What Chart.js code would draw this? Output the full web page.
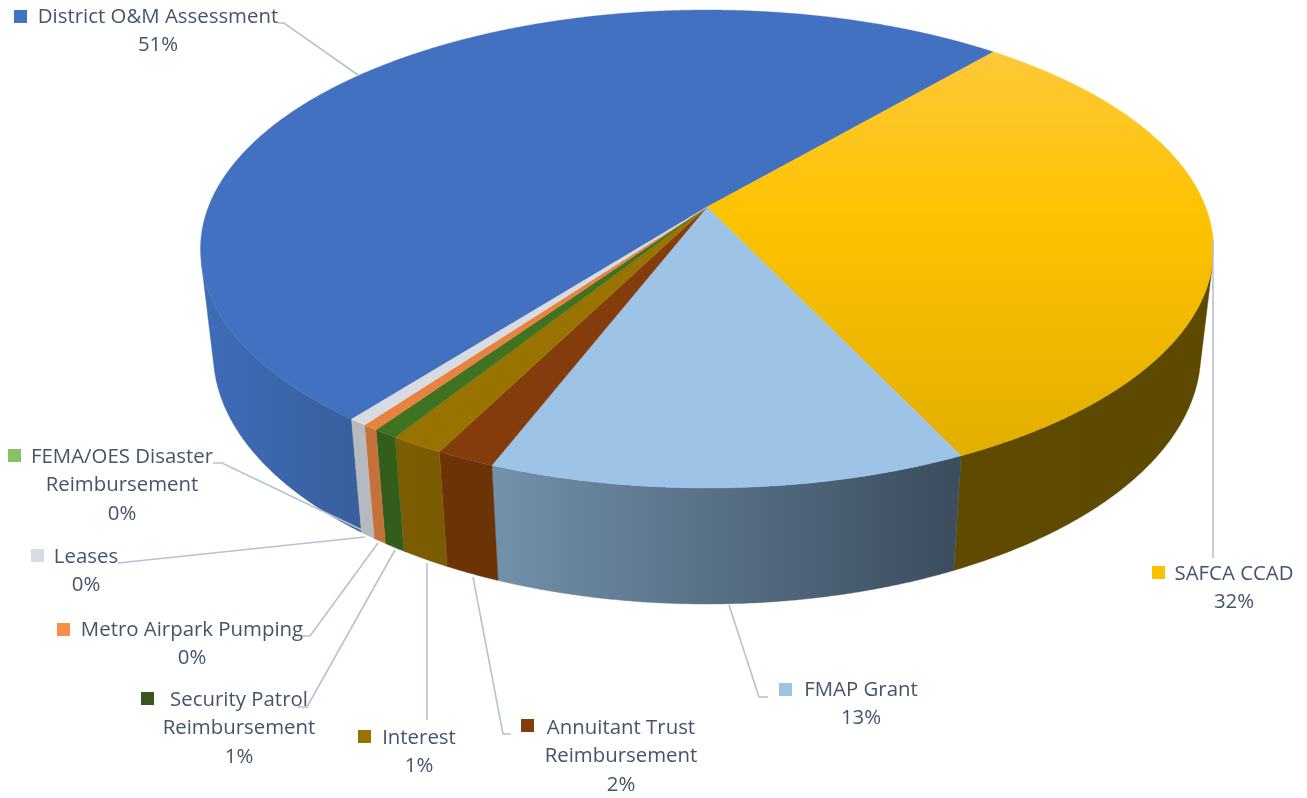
<!DOCTYPE html>
<html>
<head>
<meta charset="utf-8">
<script src="https://cdn.jsdelivr.net/npm/chart.js@4"></script>
<style>
  html, body { margin: 0; background: #fff; }
  canvas { display: block; }
</style>
</head>
<body>
<canvas id="pie" width="1307" height="798"></canvas>
<script>
// share of revenue, in percent
const categories = ["District O&M Assessment", "SAFCA CCAD", "FMAP Grant", "Annuitant Trust Reimbursement", "Interest",
    "Security Patrol Reimbursement", "Metro Airpark Pumping", "Leases", "FEMA/OES Disaster Reimbursement"];
const shares = [50.65, 31.6, 12.9, 1.6, 1.46, 0.67, 0.42, 0.49, 0.004];

const topColors = ["#4371c1", "#ffc000", "#9dc3e6", "#843c0c", "#997300", "#3f7221", "#e8833f", "#d8dce2", "#70ad47"];
const swatchColors = ["#4472c4", "#ffc000", "#9dc3e6", "#843c0c", "#997300", "#385723", "#f4904a", "#d6dce5", "#86c166"];
const wallColors = [["#3f6cb9", "#38609f"], ["#5f4a00", "#5d4900"], ["#7291ab", "#3b4c5d"], ["#6c3306", "#6c3306"],
    ["#7e5e02", "#7a5b02"], ["#335d1a", "#335d1a"], ["#c5713a", "#c5713a"], ["#b6b9bf", "#b6b9bf"], ["#5a8a39", "#5a8a39"]];

// text lines, swatch corner, text centre and first line centre, leader line
const labelLayout = [
    { lines: ["District O&M Assessment"], swatch: [14, 10], cx: 158, y: 17, leader: [[278, 23], [284, 23], [358, 75]] },
    { lines: ["SAFCA CCAD"], swatch: [1152, 566], cx: 1234, y: 574, leader: [[1213, 240], [1213, 558]] },
    { lines: ["FMAP Grant"], swatch: [779, 683], cx: 861, y: 690, leader: [[729, 605], [759, 697], [768, 697]] },
    { lines: ["Annuitant Trust", "Reimbursement"], swatch: [521, 719], cx: 621, y: 728, leader: [[473, 577], [503, 734], [511, 734]] },
    { lines: ["Interest"], swatch: [358, 730], cx: 419, y: 738, leader: [[427, 563], [427, 720]] },
    { lines: ["Security Patrol", "Reimbursement"], swatch: [141, 692], cx: 239, y: 700, leader: [[395, 550], [307, 707], [298, 707]] },
    { lines: ["Metro Airpark Pumping"], swatch: [57, 623], cx: 192, y: 630, leader: [[378, 543], [310, 636], [302, 636]] },
    { lines: ["Leases"], swatch: [31, 549], cx: 86, y: 557, leader: [[365, 537], [118, 563]] },
    { lines: ["FEMA/OES Disaster", "Reimbursement"], swatch: [8, 449], cx: 122, y: 457, leader: [[213, 463], [222, 463], [362, 530]] }
];

// tilted disc seen through a camera: apex of the pie, scale and perspective terms
const view = { cx: 707, cy: 207, a: 498.6, b: 231.6, k: 0.1757, depth: 105.6, shrink: 0.025 };
// the side wall faces the camera for sin(angle) above this
const frontLimit = view.k + view.b * view.shrink / view.depth;

function project(angle, h) {
    const u = Math.cos(angle);
    const v = Math.sin(angle);
    const w = 1 - view.k * v + view.shrink * h;
    return [view.cx + view.a * u / w, view.cy + (view.b * v + view.depth * h) / w];
}

function sweep(arc) {
    const angles = [];
    const steps = Math.max(2, Math.ceil((arc.endAngle - arc.startAngle) / 0.004));
    for (let i = 0; i <= steps; i++) {
        angles.push(arc.startAngle + (arc.endAngle - arc.startAngle) * i / steps);
    }
    return angles;
}

function tracePath(ctx, pts) {
    ctx.beginPath();
    pts.forEach((p, i) => i === 0 ? ctx.moveTo(p[0], p[1]) : ctx.lineTo(p[0], p[1]));
    ctx.closePath();
}

function wallFill(ctx, upper, i) {
    const xs = upper.map((p) => p[0]);
    const grad = ctx.createLinearGradient(Math.min(...xs), 0, Math.max(...xs), 0);
    grad.addColorStop(0, wallColors[i][0]);
    grad.addColorStop(1, wallColors[i][1]);
    return grad;
}

function topFill(ctx, i) {
    if (categories[i] !== "SAFCA CCAD") {
        return topColors[i];
    }
    const grad = ctx.createLinearGradient(0, 50, 0, 458);
    grad.addColorStop(0, "#fdc93a");
    grad.addColorStop(0.4, "#fec300");
    grad.addColorStop(1, "#e2ae00");
    return grad;
}

const perspectivePie = {
    id: "perspectivePie",
    beforeDatasetsDraw(chart) {
        const ctx = chart.ctx;
        const arcs = chart.getDatasetMeta(0).data;
        ctx.save();
        arcs.forEach((arc, i) => {
            const front = sweep(arc).filter((angle) => Math.sin(angle) > frontLimit);
            const thick = arc.endAngle - arc.startAngle > 0.001;
            if (front.length < 2) {
                return;
            }
            const upper = front.map((angle) => project(angle, 0));
            const lower = front.map((angle) => project(angle, 1));
            tracePath(ctx, upper.concat(lower.reverse()));
            ctx.fillStyle = wallFill(ctx, upper, i);
            ctx.fill();
            if (thick) {
                ctx.strokeStyle = ctx.fillStyle;
                ctx.lineWidth = 0.4;
                ctx.stroke();
            }
        });
        arcs.forEach((arc, i) => {
            tracePath(ctx, [[view.cx, view.cy]].concat(sweep(arc).map((angle) => project(angle, 0))));
            ctx.fillStyle = topFill(ctx, i);
            ctx.fill();
            if (arc.endAngle - arc.startAngle > 0.001) {
                ctx.strokeStyle = ctx.fillStyle;
                ctx.lineWidth = 0.4;
                ctx.stroke();
            }
        });
        ctx.restore();
        return false;
    },
    afterDraw(chart) {
        const ctx = chart.ctx;
        const total = shares.reduce((sum, s) => sum + s, 0);
        ctx.save();
        ctx.font = "20.4px 'Open Sans'";
        ctx.textAlign = "center";
        ctx.textBaseline = "middle";
        labelLayout.forEach((label, i) => {
            ctx.strokeStyle = "#b8c1ce";
            ctx.lineWidth = 1.6;
            ctx.beginPath();
            label.leader.forEach((p, n) => n === 0 ? ctx.moveTo(p[0], p[1]) : ctx.lineTo(p[0], p[1]));
            ctx.stroke();

            ctx.fillStyle = swatchColors[i];
            ctx.fillRect(label.swatch[0], label.swatch[1], 13, 13);

            ctx.fillStyle = "#44546a";
            const rows = label.lines.concat(Math.round(shares[i] / total * 100) + "%");
            rows.forEach((row, n) => ctx.fillText(row, label.cx, label.y + n * 28.6));
        });
        ctx.restore();
    }
};

new Chart(document.getElementById("pie").getContext("2d"), {
    type: "pie",
    data: {
        labels: categories,
        datasets: [{ data: shares, backgroundColor: topColors, borderWidth: 0 }]
    },
    options: {
        responsive: false,
        animation: false,
        rotation: 217.9,
        plugins: { legend: { display: false }, tooltip: { enabled: false } }
    },
    plugins: [perspectivePie]
});
</script>
</body>
</html>
